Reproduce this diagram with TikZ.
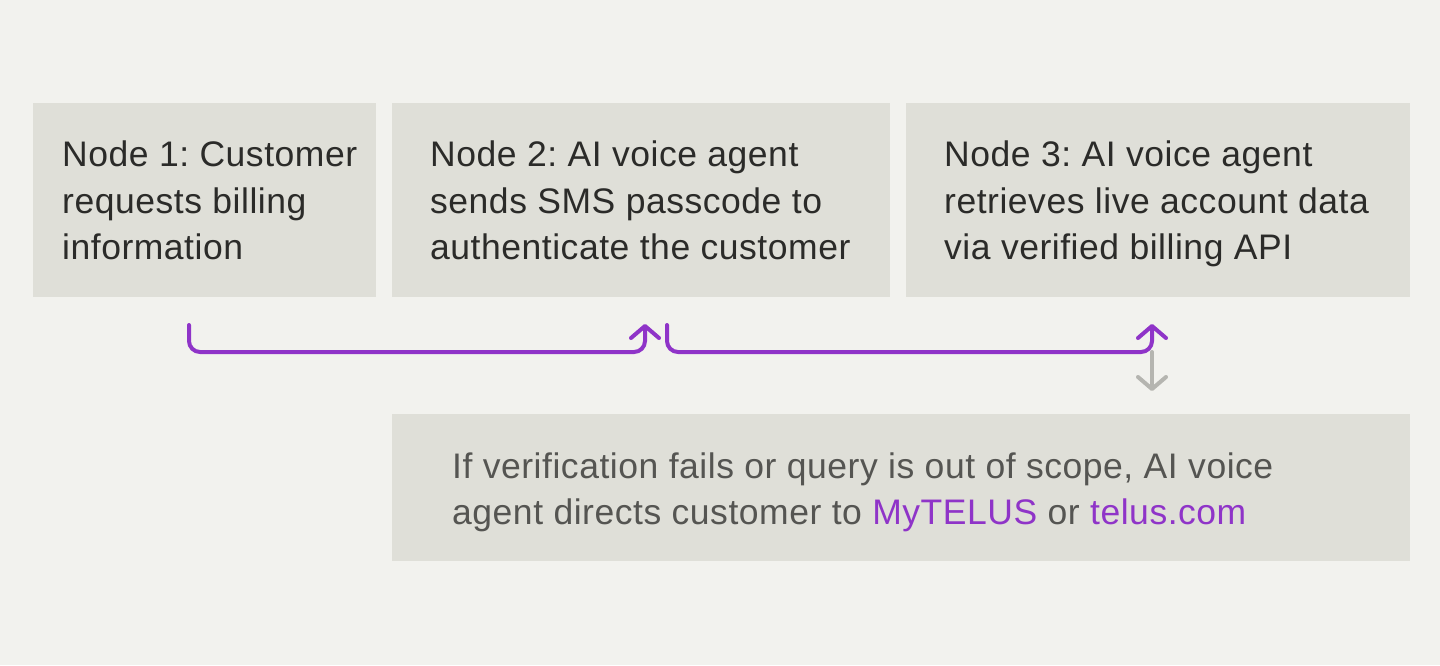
\documentclass[tikz,border=0pt]{standalone}
\usepackage{fontspec}
\setmainfont{Liberation Sans}[LetterSpace=1.5]
\usetikzlibrary{arrows.meta}
\frenchspacing
\definecolor{bg}{HTML}{F2F2EE}
\definecolor{boxfill}{HTML}{DFDFD8}
\definecolor{ink}{HTML}{2B2B29}
\definecolor{grayink}{HTML}{555552}
\definecolor{purp}{RGB}{143,52,200}
\definecolor{grayarrow}{HTML}{B5B5B0}
\tikzset{
  stepbox/.style={fill=boxfill, draw=none, anchor=north west, inner sep=0pt},
  steptext/.style={anchor=west, align=left, inner sep=0pt, text=ink,
    font=\frenchspacing\fontsize{35.5}{46.5}\selectfont},
  flowarrow/.style={draw=purp, line width=4pt, rounded corners=11pt, line cap=round,
    -{Straight Barb[length=12pt,width=28pt,line width=4pt,round]}},
  grayflow/.style={draw=grayarrow, line width=4pt, line cap=round,
    -{Straight Barb[length=12pt,width=28pt,line width=4pt,round]}}
}
\begin{document}
\begin{tikzpicture}[x=1pt,y=-1pt]
\fill[bg] (0,0) rectangle (1440,665);
\useasboundingbox (0,0) rectangle (1440,665);
\node[stepbox, minimum width=343pt, minimum height=194pt] (n1) at (33,103) {};
\node[stepbox, minimum width=498pt, minimum height=194pt] (n2) at (392,103) {};
\node[stepbox, minimum width=504pt, minimum height=194pt] (n3) at (906,103) {};
\node[stepbox, minimum width=1018pt, minimum height=147pt] (fb) at (392,414) {};
\node[steptext] (t1) at ([xshift=29pt,yshift=-3.75pt]n1.west)
  {\strut Node 1: Customer\\requests billing\\information\strut};
\node[steptext] (t2) at ([xshift=38pt,yshift=-3.75pt]n2.west)
  {\strut Node 2: AI voice agent\\sends SMS passcode to\\authenticate the customer\strut};
\node[steptext] (t3) at ([xshift=38pt,yshift=-3.75pt]n3.west)
  {\strut Node 3: AI voice agent\\retrieves live account data\\via verified billing API\strut};
\node[steptext, text=grayink] (tf) at ([xshift=60pt,yshift=-4.5pt]fb.west)
  {\strut If verification fails or query is out of scope, AI voice\\agent directs customer to \textcolor{purp}{MyTELUS} or \textcolor{purp}{telus.com}\strut};
\coordinate (s1) at (189,325);
\coordinate (e1) at (645,324);
\coordinate (s2) at (667,325);
\coordinate (e2) at (1152,324);
\coordinate (g1) at (1152,352);
\coordinate (g2) at (1152,391);
\draw[grayflow] (g1) -- (g2);
\draw[flowarrow] (s1) -- (s1 |- g1) -- (e1 |- g1) -- (e1);
\draw[flowarrow] (s2) -- (s2 |- g1) -- (g1) -- (e2);
\end{tikzpicture}
\end{document}
